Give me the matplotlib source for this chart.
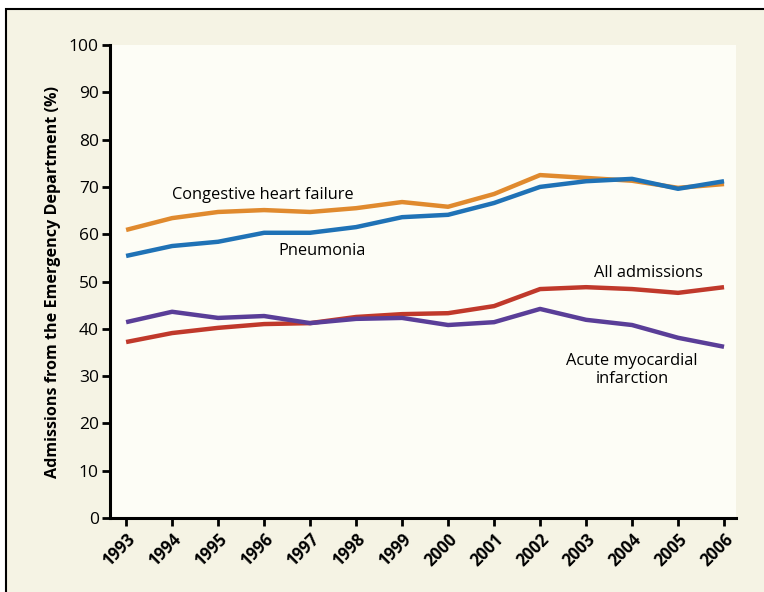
import matplotlib
matplotlib.use("Agg")
import matplotlib.pyplot as plt
from matplotlib.patches import Rectangle

years = list(range(1993, 2007))
chf = [60.9, 63.4, 64.7, 65.1, 64.7, 65.5, 66.8, 65.8, 68.5, 72.5, 71.9, 71.3, 69.8, 70.6]
pneumonia = [55.4, 57.5, 58.4, 60.3, 60.3, 61.5, 63.6, 64.1, 66.6, 70.0, 71.2, 71.7, 69.6, 71.2]
all_adm = [37.2, 39.1, 40.2, 41.0, 41.2, 42.5, 43.1, 43.3, 44.8, 48.4, 48.8, 48.4, 47.6, 48.8]
ami = [41.4, 43.6, 42.3, 42.7, 41.2, 42.1, 42.3, 40.8, 41.4, 44.2, 41.9, 40.8, 38.1, 36.2]
yticks = list(range(0, 101, 10))

plt.rcParams['font.family'] = ['Open Sans', 'DejaVu Sans']

fig = plt.figure(figsize=(7.64, 5.92), dpi=100, facecolor='white')
# beige panel with border on top/left
fig.add_artist(Rectangle((6 / 764, -0.01), 1.0, 1 - 9 / 592 + 0.01,
                         transform=fig.transFigure, facecolor='#F5F3E4',
                         edgecolor='black', linewidth=1.5, zorder=-10))

ax = fig.add_axes([110 / 764, 1 - 518 / 592, 626 / 764, 473 / 592])
ax.set_zorder(1)
ax.set_facecolor('#FDFDF6')

lw = 3.2
ax.plot(years, chf, color='#E08A2E', lw=lw, solid_capstyle='butt')
ax.plot(years, pneumonia, color='#1F72B6', lw=lw, solid_capstyle='butt')
ax.plot(years, all_adm, color='#C0392B', lw=lw, solid_capstyle='butt')
ax.plot(years, ami, color='#5A3E98', lw=lw, solid_capstyle='butt')

fs = 11.8
ax.text(1994.0, 68.3, 'Congestive heart failure', fontsize=fs, va='center', ha='left')
ax.text(1996.3, 56.4, 'Pneumonia', fontsize=fs, va='center', ha='left')
ax.text(2003.17, 51.8, 'All admissions', fontsize=fs, va='center', ha='left')
ax.text(2004.0, 31.3, 'Acute myocardial\ninfarction', fontsize=fs, va='center',
        ha='center', linespacing=1.1)

ax.set_xlim(1992.65, 2006.26)
ax.set_ylim(0, 100)
ax.set_yticks(yticks)
ax.set_xticks(years)
ax.set_xticklabels([str(y) for y in years], rotation=45, ha='right',
                   rotation_mode='anchor', fontweight='bold', fontsize=12)
ax.tick_params(axis='y', labelsize=12.5, width=2, length=6, direction='out', pad=2)
ax.tick_params(axis='x', width=2, length=6, direction='out', pad=3)

for s in ['top', 'right']:
    ax.spines[s].set_visible(False)
for s in ['left', 'bottom']:
    ax.spines[s].set_linewidth(2.2)

ax.set_ylabel('Admissions from the Emergency Department (%)', fontsize=11.6,
              fontweight='bold', labelpad=6)

fig.savefig('out.png', dpi=100, facecolor=fig.get_facecolor())
